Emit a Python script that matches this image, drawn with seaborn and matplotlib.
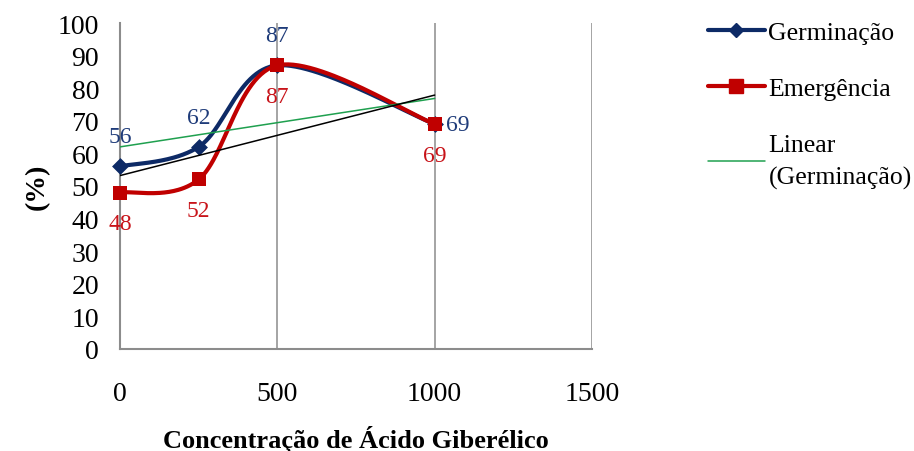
import numpy as np
import pandas as pd
import matplotlib.pyplot as plt
import seaborn as sns
from matplotlib.lines import Line2D

# Data
concentracao = [0, 250, 500, 1000]
germinacao = [56, 62, 87, 69]
emergencia = [48, 52, 87, 69]

x_ticks = [0, 500, 1000, 1500]
y_ticks = list(range(0, 101, 10))

azul = "#0D2A66"
azul_txt = "#1F3C7A"
vermelho = "#C00000"
verde = "#1FA04F"
cinza = "#8C8C8C"

sns.set_style("white")
plt.rcParams['font.family'] = ['Liberation Serif', 'DejaVu Serif']
plt.rcParams['text.color'] = 'black'
plt.rcParams['axes.labelcolor'] = 'black'
plt.rcParams['xtick.labelcolor'] = 'black'
plt.rcParams['ytick.labelcolor'] = 'black'


def suavizar(xs, ys, n=60):
    # Excel-like smoothed line: cubic Bezier with Catmull-Rom control points
    pts = np.column_stack([xs, ys]).astype(float)
    ext = np.vstack([pts[0], pts, pts[-1]])
    out = []
    t = np.linspace(0, 1, n)[:, None]
    for i in range(1, len(ext) - 2):
        p0, p3 = ext[i], ext[i + 1]
        c1 = p0 + (ext[i + 1] - ext[i - 1]) / 6
        c2 = p3 - (ext[i + 2] - ext[i]) / 6
        seg = ((1 - t) ** 3) * p0 + 3 * ((1 - t) ** 2) * t * c1 + 3 * (1 - t) * t ** 2 * c2 + t ** 3 * p3
        out.append(seg if i == 1 else seg[1:])
    out = np.vstack(out)
    return out[:, 0], out[:, 1]


df = pd.DataFrame({"conc": concentracao, "germ": germinacao, "emer": emergencia})

fig = plt.figure(figsize=(9.14, 4.52), dpi=100)
ax = fig.add_axes([120 / 914, 1 - 350 / 452, 472 / 914, 326 / 452])

# smoothed series
gx, gy = suavizar(df["conc"], df["germ"])
ex, ey = suavizar(df["conc"], df["emer"])
sns.lineplot(x=gx, y=gy, sort=False, estimator=None, color=azul, lw=3, ax=ax, zorder=3)
sns.scatterplot(x="conc", y="germ", data=df, marker="D", s=65, color=azul, edgecolor=azul,
                linewidth=0.5, ax=ax, zorder=4, clip_on=False)
sns.lineplot(x=ex, y=ey, sort=False, estimator=None, color=vermelho, lw=3, ax=ax, zorder=5)
sns.scatterplot(x="conc", y="emer", data=df, marker="s", s=110, color=vermelho, edgecolor=vermelho,
                linewidth=0, ax=ax, zorder=6, clip_on=False)

# linear trend lines
sns.regplot(x="conc", y="germ", data=df, scatter=False, ci=None, color=verde,
            line_kws={"lw": 1.1, "zorder": 7}, ax=ax)
sns.regplot(x="conc", y="emer", data=df, scatter=False, ci=None, color="black",
            line_kws={"lw": 1.1, "zorder": 7}, ax=ax)

# data labels
for x, y in zip(concentracao[:-1], germinacao[:-1]):
    ax.annotate(str(y), (x, y), xytext=(0, 21.5), textcoords="offset points",
                ha="center", va="center", fontsize=17, color=azul_txt, zorder=8)
ax.annotate(str(germinacao[-1]), (concentracao[-1], germinacao[-1]), xytext=(16.5, 0),
            textcoords="offset points", ha="center", va="center", fontsize=17, color=azul_txt, zorder=8)
for x, y in zip(concentracao, emergencia):
    ax.annotate(str(y), (x, y), xytext=(0, -22.5), textcoords="offset points",
                ha="center", va="center", fontsize=17, color="#C8141A", zorder=8)

ax.set_xlim(0, 1500)
ax.set_ylim(0, 100)
ax.set_xticks(x_ticks)
ax.set_yticks(y_ticks)
ax.tick_params(axis="x", length=5, width=1.1, color=cinza, pad=18, labelsize=20, direction="out")
ax.tick_params(axis="y", length=5, width=1.1, color=cinza, pad=10, labelsize=20, direction="out")
ax.xaxis.grid(True, color=cinza, lw=1.1)
ax.yaxis.grid(False)
for s in ["top", "right"]:
    ax.spines[s].set_visible(False)
for s in ["left", "bottom"]:
    ax.spines[s].set_color(cinza)
    ax.spines[s].set_linewidth(1.5)

ax.set_xlabel("Concentração de Ácido Giberélico", fontsize=19, fontweight="bold", labelpad=14)
ax.set_ylabel("(%)", fontsize=20, fontweight="bold", labelpad=6)

handles = [
    Line2D([], [], color=azul, lw=3, marker="D", markersize=7.5),
    Line2D([], [], color=vermelho, lw=3, marker="s", markersize=10),
    Line2D([], [], color=verde, lw=1.1),
]
labels = ["Germinação", "Emergência", "Linear\n(Germinação)"]
leg = fig.legend(handles, labels, loc="upper left", bbox_to_anchor=(708 / 914, 1 - 22 / 452),
                 frameon=False, fontsize=18.5, handlelength=2.2, handletextpad=0.15,
                 labelspacing=1.3, borderpad=0, borderaxespad=0)
leg.get_texts()[2].set_linespacing(1.55)

fig.savefig("out.png", dpi=100)
